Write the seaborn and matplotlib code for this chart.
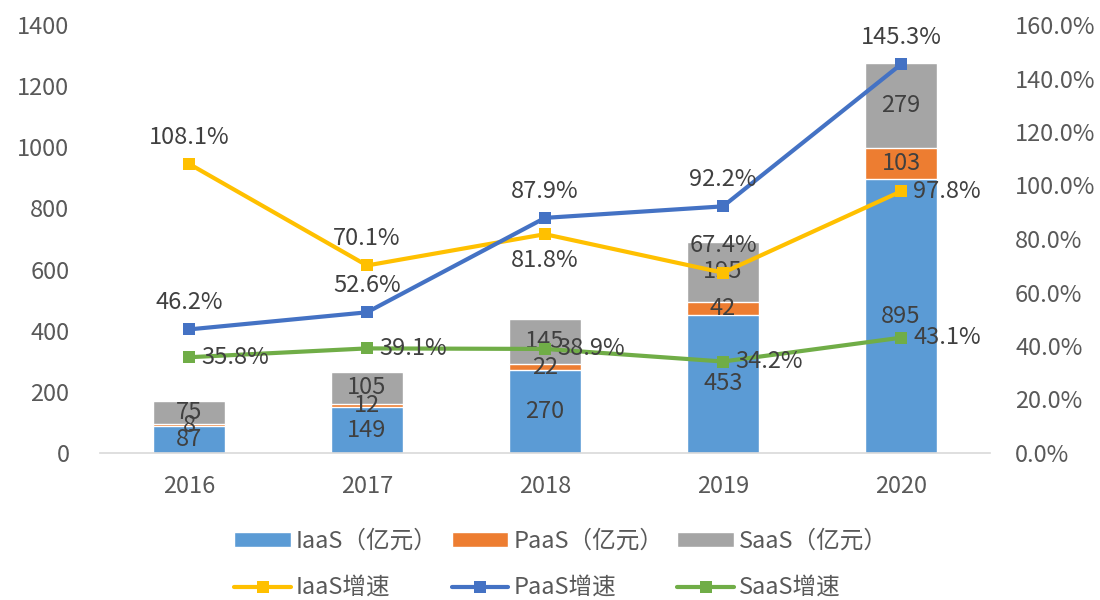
import numpy as np
import pandas as pd
import matplotlib
matplotlib.use("Agg")
import matplotlib.pyplot as plt
import seaborn as sns

# ================================================
#  Datos
# ================================================
anios = ["2016", "2017", "2018", "2019", "2020"]
iaas = [87, 149, 270, 453, 895]
paas = [8, 12, 22, 42, 103]
saas = [75, 105, 145, 195, 279]

iaas_crec = [108.1, 70.1, 81.8, 67.4, 97.8]
paas_crec = [46.2, 52.6, 87.9, 92.2, 145.3]
saas_crec = [35.8, 39.1, 38.9, 34.2, 43.1]

# posicion de las etiquetas de las lineas (arriba / abajo / derecha)
iaas_pos = ["above", "above", "below", "above", "right"]
paas_pos = ["above", "above", "above", "above", "above"]
saas_pos = ["right", "right", "right", "right", "right"]

col_iaas, col_paas, col_saas = "#5B9BD5", "#ED7D31", "#A5A5A5"
col_l_iaas, col_l_paas, col_l_saas = "#FFC000", "#4472C4", "#70AD47"
texto = "#404040"
ejes = "#595959"
fs = 17

sns.set_theme(style="white")
plt.rcParams['font.family'] = ['Noto Sans CJK SC', 'DejaVu Sans']

df = pd.DataFrame({"anio": anios, "iaas": iaas, "paas": paas, "saas": saas})
df["ip"] = df["iaas"] + df["paas"]
df["total"] = df["ip"] + df["saas"]

fig = plt.figure(figsize=(11, 6), dpi=100)
ax = fig.add_axes([100 / 1100, 1 - 453 / 600, 890 / 1100, 428 / 600])

# barras apiladas (se dibujan los acumulados de mayor a menor)
sns.barplot(data=df, x="anio", y="total", color=col_saas, saturation=1, width=0.4, ax=ax, label="SaaS（亿元）")
sns.barplot(data=df, x="anio", y="ip", color=col_paas, saturation=1, width=0.4, ax=ax, label="PaaS（亿元）")
sns.barplot(data=df, x="anio", y="iaas", color=col_iaas, saturation=1, width=0.4, ax=ax, label="IaaS（亿元）")

ax.set_ylim(0, 1400)
ax.set_yticks(range(0, 1401, 200))
ax.set_xlim(-0.5, 4.5)
ax.set_xlabel("")
ax.set_ylabel("")
ax.tick_params(axis="both", labelsize=fs, colors=ejes, length=0)
ax.tick_params(axis="x", pad=16)
ax.tick_params(axis="y", pad=22)
for s in ["top", "right", "left"]:
    ax.spines[s].set_visible(False)
ax.spines["bottom"].set_color("#D9D9D9")
ax.spines["bottom"].set_linewidth(1.2)
if ax.get_legend():
    ax.get_legend().remove()

# etiquetas de las barras
for i in range(len(anios)):
    ax.text(i, iaas[i] / 2, str(iaas[i]), ha="center", va="center", fontsize=fs, color=texto)
    ax.text(i, iaas[i] + paas[i] / 2, str(paas[i]), ha="center", va="center", fontsize=fs, color=texto)
    ax.text(i, df["ip"][i] + saas[i] / 2, str(saas[i]), ha="center", va="center", fontsize=fs, color=texto)

# ================================================
#  Lineas de crecimiento (eje derecho)
# ================================================
ax2 = ax.twinx()
x = np.arange(len(anios))
for vals, col, nombre in [(iaas_crec, col_l_iaas, "IaaS增速"),
                          (paas_crec, col_l_paas, "PaaS增速"),
                          (saas_crec, col_l_saas, "SaaS增速")]:
    sns.lineplot(x=x, y=vals, color=col, marker="s", markersize=9, markeredgewidth=0,
                 linewidth=3, ax=ax2, label=nombre)

ax2.set_ylim(0, 160)
ax2.set_yticks(range(0, 161, 20))
ax2.set_yticklabels([f"{v:.1f}%" for v in range(0, 161, 20)])
ax2.tick_params(axis="y", labelsize=fs, colors=ejes, length=0, pad=18)
ax2.set_ylabel("")
for s in ["top", "right", "left", "bottom"]:
    ax2.spines[s].set_visible(False)
ax2.get_legend().remove()

for vals, posiciones in [(iaas_crec, iaas_pos), (paas_crec, paas_pos), (saas_crec, saas_pos)]:
    for i, (v, p) in enumerate(zip(vals, posiciones)):
        if p == "above":
            ax2.annotate(f"{v}%", (i, v), xytext=(0, 11), textcoords="offset points",
                         ha="center", va="bottom", fontsize=fs, color=texto)
        elif p == "below":
            ax2.annotate(f"{v}%", (i, v), xytext=(0, -11), textcoords="offset points",
                         ha="center", va="top", fontsize=fs, color=texto)
        else:
            ax2.annotate(f"{v}%", (i, v), xytext=(9, 0), textcoords="offset points",
                         ha="left", va="center", fontsize=fs, color=texto)

# ================================================
#  Leyenda
# ================================================
h1, l1 = ax.get_legend_handles_labels()
h2, l2 = ax2.get_legend_handles_labels()
barras = dict(zip(l1, h1))
lineas = dict(zip(l2, h2))
handles = [barras["IaaS（亿元）"], lineas["IaaS增速"],
           barras["PaaS（亿元）"], lineas["PaaS增速"],
           barras["SaaS（亿元）"], lineas["SaaS增速"]]
labels = ["IaaS（亿元）", "IaaS增速", "PaaS（亿元）", "PaaS增速", "SaaS（亿元）", "SaaS增速"]
fig.legend(handles, labels, loc="lower center", bbox_to_anchor=(0.51, -0.035), ncol=3,
           frameon=False, fontsize=fs, labelcolor=ejes, handlelength=2.4,
           handleheight=0.6, columnspacing=0.6, handletextpad=0.2, labelspacing=1.0)

fig.savefig("out.png", dpi=100)
